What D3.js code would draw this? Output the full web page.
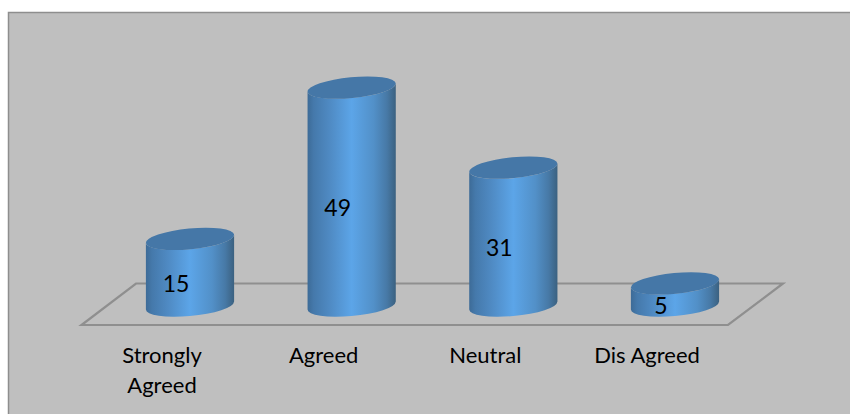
<!DOCTYPE html>
<html><head><meta charset="utf-8">
<script src="https://cdn.jsdelivr.net/npm/d3@7/dist/d3.min.js"></script>
<style>html,body{margin:0;padding:0;background:#fff}svg{display:block}</style>
</head><body><svg id="c" width="850" height="414"></svg>
<script>
const categories = [["Strongly","Agreed"],["Agreed"],["Neutral"],["Dis Agreed"]];
const values = [15,49,31,5];

const svg = d3.select("#c");
const W=850,H=414;
const defs = svg.append("defs");
const g = defs.append("linearGradient").attr("id","cyl").attr("x1",0).attr("x2",1).attr("y1",0).attr("y2",0);
[[0,"#3d6b97"],[0.07,"#4579ab"],[0.25,"#4f8ac3"],[0.5,"#5ca5e8"],[0.75,"#5290c8"],[0.9,"#4779a6"],[1,"#3b6180"]]
 .forEach(([o,c])=>g.append("stop").attr("offset",o).attr("stop-color",c));

svg.append("rect").attr("x",8).attr("y",12).attr("width",W-8).attr("height",H-12).attr("fill","#bfbfbf");
svg.append("path").attr("d",`M8.5,${H}V12.5H${W}`).attr("fill","none").attr("stroke","#8e8e8e").attr("stroke-width",1.5);

const x = d3.scalePoint().domain(d3.range(values.length)).range([190,675]);
const y = d3.scaleLinear().domain([0,49]).range([305.6,87.6]);
const labelShiftX = -28, valueShiftX=-14;

// floor
svg.append("path").attr("d","M81.5,325H728L783,283.5H136Z").attr("fill","none").attr("stroke","#8f8f8f").attr("stroke-width",2.2);

const rx=44.3, ry=10.4, rot=5.5, phi=rot*Math.PI/180;
const ax=Math.sqrt(rx*rx*Math.cos(phi)**2+ry*ry*Math.sin(phi)**2);
const dy=(rx*rx-ry*ry)*Math.sin(phi)*Math.cos(phi)/ax;
values.forEach((v,i)=>{
  const cx=x(i), t=y(v), b=y(0);
  const arc=`A${rx},${ry} ${-rot} 0 0 `;
  svg.append("path")
    .attr("d",`M${cx-ax},${t+dy}L${cx-ax},${b+dy}${arc}${cx+ax},${b-dy}L${cx+ax},${t-dy}${arc.replace("0 0 ","0 1 ")}${cx-ax},${t+dy}Z`)
    .attr("fill","url(#cyl)");
  svg.append("ellipse").attr("cx",cx).attr("cy",t).attr("rx",rx).attr("ry",ry)
    .attr("transform",`rotate(${-rot} ${cx} ${t})`).attr("fill","#4577a7");
  svg.append("text").attr("x",cx+valueShiftX).attr("y",(t+b)/2+19.5)
    .attr("text-anchor","middle").attr("font-family","Lato").attr("font-size",23).attr("fill","#000").text(v);
  categories[i].forEach((s,j)=>svg.append("text").attr("x",cx+labelShiftX).attr("y",363+j*30)
    .attr("text-anchor","middle").attr("font-family","Lato").attr("font-size",22).attr("fill","#000").text(s));
});
</script></body></html>
